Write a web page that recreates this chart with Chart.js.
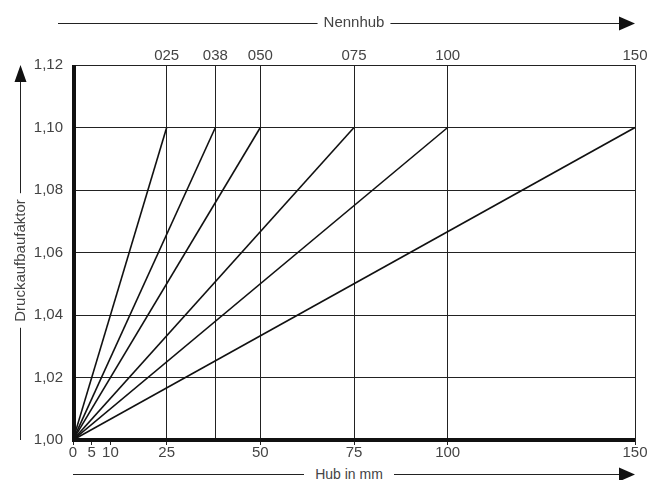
<!DOCTYPE html>
<html>
<head>
<meta charset="utf-8">
<script src="https://cdn.jsdelivr.net/npm/chart.js@4"></script>
<style>
  html, body { margin: 0; padding: 0; background: #fff; }
  #wrap { position: relative; width: 650px; height: 480px; }
  #hubTitle {
    position: absolute; left: 304px; width: 90px; top: 466px; height: 16px;
    font: 14px "Liberation Sans", Arial, sans-serif; color: #444;
    text-align: center; line-height: 16px; background: #fff;
  }
</style>
</head>
<body>
<div id="wrap">
  <canvas id="myChart" width="650" height="480"></canvas>
  <div id="hubTitle">Hub in mm</div>
</div>
<script>
// Nennhub (mm) - each line runs from (0; 1,00) to (Nennhub; 1,10)
var nennhub = [25, 38, 50, 75, 100, 150];
var faktorEnd = [1.10, 1.10, 1.10, 1.10, 1.10, 1.10];
var hubStart = 0;
var faktorStart = 1.00;

var xTicksBottom = [0, 5, 10, 25, 50, 75, 100, 150];
var xTicksTop = [25, 38, 50, 75, 100, 150];
var yTicks = [1.00, 1.02, 1.04, 1.06, 1.08, 1.10, 1.12];

var txt = '#444';
var fontFam = '"Liberation Sans", Arial, sans-serif';

var datasets = nennhub.map(function (n, i) {
    return {
        label: String(n).padStart(3, '0'),
        data: [{ x: hubStart, y: faktorStart }, { x: n, y: faktorEnd[i] }],
        showLine: true,
        borderColor: '#111',
        borderWidth: 1.6,
        pointRadius: 0,
        fill: false
    };
});

function arrowHead(ctx, x, y, dir) {
    ctx.beginPath();
    if (dir == 'right') {
        ctx.moveTo(x, y);
        ctx.lineTo(x - 16, y - 7);
        ctx.lineTo(x - 16, y + 7);
    } else {
        ctx.moveTo(x, y);
        ctx.lineTo(x - 6, y + 17);
        ctx.lineTo(x + 6, y + 17);
    }
    ctx.closePath();
    ctx.fill();
}

// arrows and axis titles
var arrows = {
    id: 'arrows',
    afterDraw: function (chart) {
        var ctx = chart.ctx;
        var a = chart.chartArea;
        ctx.save();
        ctx.strokeStyle = '#222';
        ctx.lineWidth = 1;
        ctx.textBaseline = 'middle';
        ctx.textAlign = 'center';
        ctx.font = '15px ' + fontFam;

        var cx = (a.left + a.right) / 2;

        // top "Nennhub"
        var yTop = 23.5;
        var w = ctx.measureText('Nennhub').width;
        ctx.beginPath();
        ctx.moveTo(58, yTop); ctx.lineTo(cx - w / 2 - 6, yTop);
        ctx.moveTo(cx + w / 2 + 6, yTop); ctx.lineTo(a.right - 10, yTop);
        ctx.stroke();
        ctx.fillStyle = '#111';
        arrowHead(ctx, a.right, yTop, 'right');
        ctx.fillStyle = txt;
        ctx.fillText('Nennhub', cx, yTop - 1);

        // bottom arrow, its title "Hub in mm" is an html label on top
        var yBot = 474.5;
        ctx.beginPath();
        ctx.moveTo(a.left, yBot); ctx.lineTo(a.right - 10, yBot);
        ctx.stroke();
        ctx.fillStyle = '#111';
        arrowHead(ctx, a.right, yBot, 'right');

        // left "Druckaufbaufaktor"
        var xL = 20.5;
        var cy = (a.top + a.bottom) / 2 + 8;
        w = ctx.measureText('Druckaufbaufaktor').width;
        ctx.beginPath();
        ctx.moveTo(xL, a.bottom); ctx.lineTo(xL, cy + w / 2 + 6);
        ctx.moveTo(xL, cy - w / 2 - 6); ctx.lineTo(xL, a.top + 12);
        ctx.stroke();
        ctx.fillStyle = '#111';
        arrowHead(ctx, xL, a.top, 'up');
        ctx.translate(xL, cy);
        ctx.rotate(-Math.PI / 2);
        ctx.fillStyle = txt;
        ctx.fillText('Druckaufbaufaktor', 0, 0);
        ctx.restore();
    }
};

// thick left and bottom axis lines, over the data lines
var thickAxes = {
    id: 'thickAxes',
    afterDatasetsDraw: function (chart) {
        var ctx = chart.ctx;
        var a = chart.chartArea;
        ctx.save();
        ctx.fillStyle = '#111';
        ctx.fillRect(a.left - 1, a.top, 4, a.bottom - a.top + 2);
        ctx.fillRect(a.left - 1, a.bottom - 2, a.right - a.left + 1, 4);
        ctx.restore();
    }
};

var myChart = new Chart(document.getElementById('myChart'), {
    type: 'scatter',
    data: { datasets: datasets },
    plugins: [arrows, thickAxes],
    options: {
        responsive: false,
        animation: false,
        layout: { padding: { left: 0, right: 15, top: 0, bottom: 0 } },
        plugins: { legend: { display: false }, tooltip: { enabled: false } },
        scales: {
            x: {
                type: 'linear',
                position: 'bottom',
                min: 0,
                max: 150,
                afterFit: function (s) { s.height = 40; },
                ticks: {
                    stepSize: 5,
                    autoSkip: false,
                    maxRotation: 0,
                    padding: 0,
                    color: txt,
                    font: { family: fontFam, size: 15, lineHeight: 1 },
                    callback: function (v) {
                        return xTicksBottom.indexOf(Math.round(v)) >= 0 ? String(Math.round(v)) : null;
                    }
                },
                grid: { drawOnChartArea: false, drawTicks: true, tickLength: 5, color: '#222', lineWidth: 1 },
                border: { display: false }
            },
            xTop: {
                type: 'linear',
                position: 'top',
                min: 0,
                max: 150,
                afterBuildTicks: function (s) { s.ticks = xTicksTop.map(function (v) { return { value: v }; }); },
                afterFit: function (s) { s.height = 65; },
                ticks: {
                    autoSkip: false,
                    maxRotation: 0,
                    padding: 0,
                    color: txt,
                    font: { family: fontFam, size: 15 },
                    callback: function (v) { return String(v).padStart(3, '0'); }
                },
                grid: { drawOnChartArea: true, drawTicks: false, color: '#222', lineWidth: 1 },
                border: { display: false }
            },
            y: {
                type: 'linear',
                min: 1.00,
                max: 1.12,
                afterBuildTicks: function (s) { s.ticks = yTicks.map(function (v) { return { value: v }; }); },
                afterFit: function (s) { s.width = 73; },
                ticks: {
                    padding: 10,
                    color: txt,
                    font: { family: fontFam, size: 15 },
                    callback: function (v) { return v.toFixed(2).replace('.', ','); }
                },
                grid: { drawTicks: false, color: '#222', lineWidth: 1 },
                border: { display: false }
            }
        }
    }
});
</script>
</body>
</html>
